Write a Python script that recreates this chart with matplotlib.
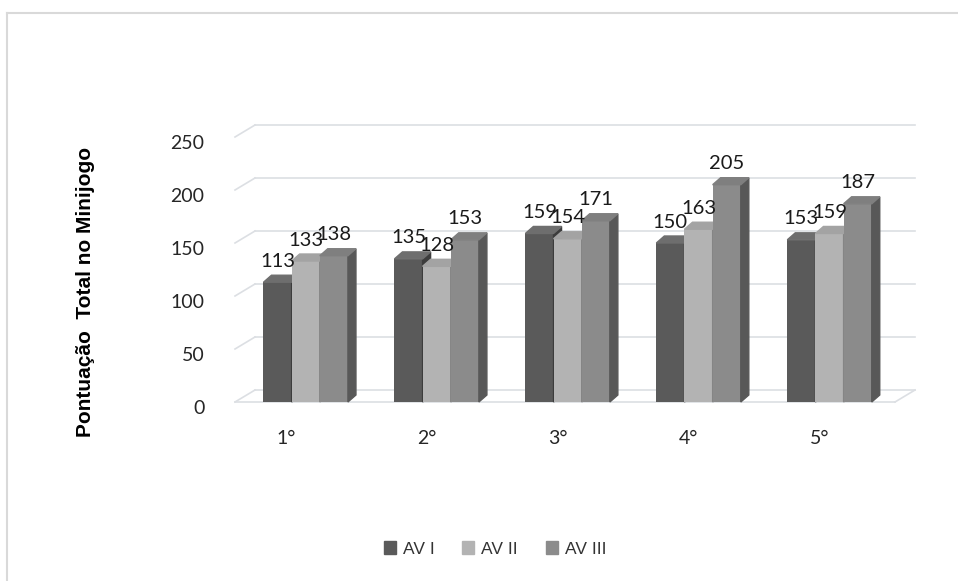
import matplotlib.pyplot as plt
from matplotlib.patches import Polygon, Patch
from matplotlib.lines import Line2D
from matplotlib.transforms import ScaledTranslation

categories = ['1°', '2°', '3°', '4°', '5°']
series_names = ['AV I', 'AV II', 'AV III']
av1 = [113, 135, 159, 150, 153]
av2 = [133, 128, 154, 163, 159]
av3 = [138, 153, 171, 205, 187]
yticks = [0, 50, 100, 150, 200, 250]

front_colors = ['#5a5a5a', '#b3b3b3', '#8b8b8b']
top_colors = ['#6e6e6e', '#a3a3a3', '#7f7f7f']
side_colors = ['#3c3c3c', '#858585', '#585858']
grid_color = '#dcdfe3'

W, H = 958, 581
fig = plt.figure(figsize=(W / 100, H / 100), dpi=100)
ax_l, ax_r, ax_b, ax_t = 235, 895, 402, 137
ax = fig.add_axes([ax_l / W, 1 - ax_b / H, (ax_r - ax_l) / W, (ax_b - ax_t) / H])
ax.set_xlim(-0.54, 4.5)
ax.set_ylim(0, 250)
for s in ax.spines.values():
    s.set_visible(False)

# pixel -> data unit helpers
xlo, xhi = ax.get_xlim()
px_x = (xhi - xlo) / (ax_r - ax_l)
px_y = 250 / (ax_b - ax_t)

# back wall / left wall grid (pseudo 3D)
wx, wy = 20 * px_x, 12 * px_y
for t in yticks:
    ax.add_line(Line2D([xlo + wx, xhi + wx], [t + wy, t + wy], color=grid_color,
                       lw=1.2, clip_on=False, zorder=0))
    ax.add_line(Line2D([xlo, xlo + wx], [t, t + wy], color=grid_color,
                       lw=1.2, clip_on=False, zorder=0))
ax.add_line(Line2D([xlo, xhi], [0, 0], color=grid_color, lw=1.2, clip_on=False, zorder=0))
ax.add_line(Line2D([xhi, xhi + wx], [0, wy], color=grid_color, lw=1.2, clip_on=False, zorder=0))

bw = 0.215
dx, dy = 8 * px_x, 7 * px_y
data = [av1, av2, av3]
z = 2
for i in range(len(categories)):
    for j, vals in enumerate(data):
        x0 = i + (j - 1) * bw - bw / 2
        v = vals[i]
        ax.bar(x0, v, width=bw, align='edge', color=front_colors[j], zorder=z)
        ax.add_patch(Polygon([(x0 + bw, 0), (x0 + bw + dx, dy), (x0 + bw + dx, v + dy), (x0 + bw, v)],
                             closed=True, color=side_colors[j], zorder=z, clip_on=False))
        ax.add_patch(Polygon([(x0, v), (x0 + dx, v + dy), (x0 + bw + dx, v + dy), (x0 + bw, v)],
                             closed=True, color=top_colors[j], zorder=z, clip_on=False))
        ax.annotate(str(v), (x0 + bw / 2, v), xytext=(0, 9), textcoords='offset points',
                    ha='center', va='bottom', fontsize=14.5, family='Lato', color='#1a1a1a',
                    zorder=20)
        z += 1

ax.set_yticks(yticks)
ax.set_xticks(range(len(categories)))
ax.set_xticklabels(categories)
ax.tick_params(axis='both', length=0, labelsize=14, labelcolor='#262626')
ax.tick_params(axis='y', pad=22)
ax.tick_params(axis='x', pad=20)
for lab in ax.get_yticklabels():
    lab.set_family('Lato')
    lab.set_transform(lab.get_transform() + ScaledTranslation(0, -0.05, fig.dpi_scale_trans))
for k, lab in enumerate(ax.get_xticklabels()):
    lab.set_family('Lato')
    shift = -0.2 if k == 0 else -0.1
    lab.set_transform(lab.get_transform() + ScaledTranslation(shift, 0, fig.dpi_scale_trans))

fig.text(86 / W, 1 - 292 / H, 'Pontuação  Total no Minijogo', rotation=90, ha='center',
         va='center', fontsize=15, fontweight='bold', family='Liberation Sans')

handles = [Patch(color=c) for c in front_colors]
fig.legend(handles, series_names, loc='center', bbox_to_anchor=(495 / W, 1 - 549 / H), ncol=3,
           frameon=False, handlelength=0.7, handleheight=0.7, handletextpad=0.4,
           columnspacing=1.6, prop={'family': 'Liberation Sans', 'size': 12.5},
           labelcolor='#333333')

# chart frame
fig.add_artist(Line2D([7 / W, 1], [1 - 13 / H, 1 - 13 / H], color='#d9d9d9', lw=1.5))
fig.add_artist(Line2D([7 / W, 7 / W], [0, 1 - 13 / H], color='#d9d9d9', lw=1.5))

fig.savefig('out.png', dpi=100)
